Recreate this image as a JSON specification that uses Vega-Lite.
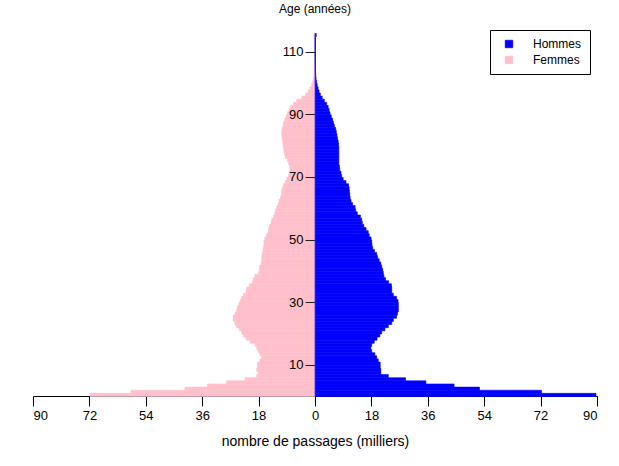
{
  "$schema": "https://vega.github.io/schema/vega-lite/v6.json",
  "width": 564,
  "height": 363,
  "autosize": {"type": "none"},
  "padding": {"left": 33, "top": 33, "right": 22, "bottom": 70},
  "title": {"text": "Age (années)", "fontSize": 12, "fontWeight": "normal", "anchor": "middle", "offset": 14, "font": "Liberation Sans", "color": "black"},
  "config": {
    "view": {"stroke": null},
    "font": "Liberation Sans",
    "axis": {"grid": false, "labelFont": "Liberation Sans", "titleFont": "Liberation Sans"},
    "legend": {"labelFont": "Liberation Sans"}
  },
  "datasets": {
    "pyramide": [
      {"age":0,"sexe":"Hommes","n":89.7},{"age":1,"sexe":"Hommes","n":72.3},{"age":2,"sexe":"Hommes","n":52.5},{"age":3,"sexe":"Hommes","n":44.4},{"age":4,"sexe":"Hommes","n":35.4},
      {"age":5,"sexe":"Hommes","n":28.9},{"age":6,"sexe":"Hommes","n":23.4},{"age":7,"sexe":"Hommes","n":21.0},{"age":8,"sexe":"Hommes","n":21.0},{"age":9,"sexe":"Hommes","n":20.8},
      {"age":10,"sexe":"Hommes","n":20.8},{"age":11,"sexe":"Hommes","n":20.2},{"age":12,"sexe":"Hommes","n":19.7},{"age":13,"sexe":"Hommes","n":19.1},{"age":14,"sexe":"Hommes","n":18.1},
      {"age":15,"sexe":"Hommes","n":17.8},{"age":16,"sexe":"Hommes","n":18.1},{"age":17,"sexe":"Hommes","n":18.9},{"age":18,"sexe":"Hommes","n":19.8},{"age":19,"sexe":"Hommes","n":20.7},
      {"age":20,"sexe":"Hommes","n":21.3},{"age":21,"sexe":"Hommes","n":22.3},{"age":22,"sexe":"Hommes","n":23.4},{"age":23,"sexe":"Hommes","n":24.5},{"age":24,"sexe":"Hommes","n":25.0},
      {"age":25,"sexe":"Hommes","n":26.0},{"age":26,"sexe":"Hommes","n":26.3},{"age":27,"sexe":"Hommes","n":26.6},{"age":28,"sexe":"Hommes","n":26.6},{"age":29,"sexe":"Hommes","n":26.6},
      {"age":30,"sexe":"Hommes","n":26.5},{"age":31,"sexe":"Hommes","n":26.0},{"age":32,"sexe":"Hommes","n":25.0},{"age":33,"sexe":"Hommes","n":24.5},{"age":34,"sexe":"Hommes","n":24.5},
      {"age":35,"sexe":"Hommes","n":24.4},{"age":36,"sexe":"Hommes","n":23.5},{"age":37,"sexe":"Hommes","n":22.5},{"age":38,"sexe":"Hommes","n":22.0},{"age":39,"sexe":"Hommes","n":21.8},
      {"age":40,"sexe":"Hommes","n":21.6},{"age":41,"sexe":"Hommes","n":21.3},{"age":42,"sexe":"Hommes","n":21.0},{"age":43,"sexe":"Hommes","n":20.5},{"age":44,"sexe":"Hommes","n":20.0},
      {"age":45,"sexe":"Hommes","n":19.7},{"age":46,"sexe":"Hommes","n":19.0},{"age":47,"sexe":"Hommes","n":18.4},{"age":48,"sexe":"Hommes","n":18.2},{"age":49,"sexe":"Hommes","n":18.1},
      {"age":50,"sexe":"Hommes","n":17.9},{"age":51,"sexe":"Hommes","n":17.3},{"age":52,"sexe":"Hommes","n":17.0},{"age":53,"sexe":"Hommes","n":16.3},{"age":54,"sexe":"Hommes","n":15.6},
      {"age":55,"sexe":"Hommes","n":15.1},{"age":56,"sexe":"Hommes","n":14.9},{"age":57,"sexe":"Hommes","n":14.5},{"age":58,"sexe":"Hommes","n":13.5},{"age":59,"sexe":"Hommes","n":13.0},
      {"age":60,"sexe":"Hommes","n":12.8},{"age":61,"sexe":"Hommes","n":12.0},{"age":62,"sexe":"Hommes","n":11.5},{"age":63,"sexe":"Hommes","n":11.2},{"age":64,"sexe":"Hommes","n":11.1},
      {"age":65,"sexe":"Hommes","n":11.0},{"age":66,"sexe":"Hommes","n":10.9},{"age":67,"sexe":"Hommes","n":10.7},{"age":68,"sexe":"Hommes","n":9.9},{"age":69,"sexe":"Hommes","n":9.0},
      {"age":70,"sexe":"Hommes","n":8.5},{"age":71,"sexe":"Hommes","n":8.3},{"age":72,"sexe":"Hommes","n":7.9},{"age":73,"sexe":"Hommes","n":7.8},{"age":74,"sexe":"Hommes","n":7.6},
      {"age":75,"sexe":"Hommes","n":7.6},{"age":76,"sexe":"Hommes","n":7.6},{"age":77,"sexe":"Hommes","n":7.6},{"age":78,"sexe":"Hommes","n":7.6},{"age":79,"sexe":"Hommes","n":7.6},
      {"age":80,"sexe":"Hommes","n":7.5},{"age":81,"sexe":"Hommes","n":7.4},{"age":82,"sexe":"Hommes","n":7.2},{"age":83,"sexe":"Hommes","n":7.0},{"age":84,"sexe":"Hommes","n":6.8},
      {"age":85,"sexe":"Hommes","n":6.6},{"age":86,"sexe":"Hommes","n":6.2},{"age":87,"sexe":"Hommes","n":5.9},{"age":88,"sexe":"Hommes","n":5.6},{"age":89,"sexe":"Hommes","n":5.2},
      {"age":90,"sexe":"Hommes","n":4.8},{"age":91,"sexe":"Hommes","n":4.5},{"age":92,"sexe":"Hommes","n":4.2},{"age":93,"sexe":"Hommes","n":3.7},{"age":94,"sexe":"Hommes","n":3.0},
      {"age":95,"sexe":"Hommes","n":2.3},{"age":96,"sexe":"Hommes","n":1.7},{"age":97,"sexe":"Hommes","n":1.3},{"age":98,"sexe":"Hommes","n":1.0},{"age":99,"sexe":"Hommes","n":0.7},
      {"age":100,"sexe":"Hommes","n":0.5},{"age":101,"sexe":"Hommes","n":0.35},{"age":102,"sexe":"Hommes","n":0.25},{"age":103,"sexe":"Hommes","n":0.18},{"age":104,"sexe":"Hommes","n":0.12},
      {"age":105,"sexe":"Hommes","n":0.08},{"age":106,"sexe":"Hommes","n":0.06},{"age":107,"sexe":"Hommes","n":0.04},{"age":108,"sexe":"Hommes","n":0.03},{"age":109,"sexe":"Hommes","n":0.02},
      {"age":110,"sexe":"Hommes","n":0.02},{"age":111,"sexe":"Hommes","n":0.01},{"age":112,"sexe":"Hommes","n":0.01},{"age":113,"sexe":"Hommes","n":0.01},{"age":114,"sexe":"Hommes","n":0.02},
      {"age":115,"sexe":"Hommes","n":0.4},
      {"age":0,"sexe":"Femmes","n":71.8},{"age":1,"sexe":"Femmes","n":58.7},{"age":2,"sexe":"Femmes","n":41.5},{"age":3,"sexe":"Femmes","n":34.3},{"age":4,"sexe":"Femmes","n":28.2},
      {"age":5,"sexe":"Femmes","n":22.3},{"age":6,"sexe":"Femmes","n":18.6},{"age":7,"sexe":"Femmes","n":18.1},{"age":8,"sexe":"Femmes","n":18.6},{"age":9,"sexe":"Femmes","n":18.3},
      {"age":10,"sexe":"Femmes","n":18.4},{"age":11,"sexe":"Femmes","n":17.6},{"age":12,"sexe":"Femmes","n":17.0},{"age":13,"sexe":"Femmes","n":17.6},{"age":14,"sexe":"Femmes","n":18.1},
      {"age":15,"sexe":"Femmes","n":18.6},{"age":16,"sexe":"Femmes","n":19.1},{"age":17,"sexe":"Femmes","n":20.7},{"age":18,"sexe":"Femmes","n":22.0},{"age":19,"sexe":"Femmes","n":22.9},
      {"age":20,"sexe":"Femmes","n":23.4},{"age":21,"sexe":"Femmes","n":24.2},{"age":22,"sexe":"Femmes","n":25.2},{"age":23,"sexe":"Femmes","n":25.6},{"age":24,"sexe":"Femmes","n":26.1},
      {"age":25,"sexe":"Femmes","n":26.1},{"age":26,"sexe":"Femmes","n":25.5},{"age":27,"sexe":"Femmes","n":25.0},{"age":28,"sexe":"Femmes","n":24.8},{"age":29,"sexe":"Femmes","n":24.3},
      {"age":30,"sexe":"Femmes","n":23.9},{"age":31,"sexe":"Femmes","n":23.5},{"age":32,"sexe":"Femmes","n":22.8},{"age":33,"sexe":"Femmes","n":22.0},{"age":34,"sexe":"Femmes","n":21.8},
      {"age":35,"sexe":"Femmes","n":21.0},{"age":36,"sexe":"Femmes","n":20.0},{"age":37,"sexe":"Femmes","n":19.7},{"age":38,"sexe":"Femmes","n":19.2},{"age":39,"sexe":"Femmes","n":18.0},
      {"age":40,"sexe":"Femmes","n":17.8},{"age":41,"sexe":"Femmes","n":17.7},{"age":42,"sexe":"Femmes","n":17.2},{"age":43,"sexe":"Femmes","n":17.0},{"age":44,"sexe":"Femmes","n":17.0},
      {"age":45,"sexe":"Femmes","n":16.9},{"age":46,"sexe":"Femmes","n":16.6},{"age":47,"sexe":"Femmes","n":16.5},{"age":48,"sexe":"Femmes","n":16.3},{"age":49,"sexe":"Femmes","n":16.3},
      {"age":50,"sexe":"Femmes","n":16.0},{"age":51,"sexe":"Femmes","n":15.5},{"age":52,"sexe":"Femmes","n":15.0},{"age":53,"sexe":"Femmes","n":14.8},{"age":54,"sexe":"Femmes","n":14.5},
      {"age":55,"sexe":"Femmes","n":14.0},{"age":56,"sexe":"Femmes","n":13.8},{"age":57,"sexe":"Femmes","n":13.2},{"age":58,"sexe":"Femmes","n":12.8},{"age":59,"sexe":"Femmes","n":12.6},
      {"age":60,"sexe":"Femmes","n":12.2},{"age":61,"sexe":"Femmes","n":11.8},{"age":62,"sexe":"Femmes","n":11.5},{"age":63,"sexe":"Femmes","n":11.0},{"age":64,"sexe":"Femmes","n":10.7},
      {"age":65,"sexe":"Femmes","n":10.6},{"age":66,"sexe":"Femmes","n":10.4},{"age":67,"sexe":"Femmes","n":10.1},{"age":68,"sexe":"Femmes","n":9.5},{"age":69,"sexe":"Femmes","n":9.0},
      {"age":70,"sexe":"Femmes","n":8.5},{"age":71,"sexe":"Femmes","n":8.2},{"age":72,"sexe":"Femmes","n":8.0},{"age":73,"sexe":"Femmes","n":8.1},{"age":74,"sexe":"Femmes","n":8.4},
      {"age":75,"sexe":"Femmes","n":8.8},{"age":76,"sexe":"Femmes","n":9.4},{"age":77,"sexe":"Femmes","n":9.7},{"age":78,"sexe":"Femmes","n":9.9},{"age":79,"sexe":"Femmes","n":10.1},
      {"age":80,"sexe":"Femmes","n":10.2},{"age":81,"sexe":"Femmes","n":10.3},{"age":82,"sexe":"Femmes","n":10.5},{"age":83,"sexe":"Femmes","n":10.6},{"age":84,"sexe":"Femmes","n":10.6},
      {"age":85,"sexe":"Femmes","n":10.5},{"age":86,"sexe":"Femmes","n":10.2},{"age":87,"sexe":"Femmes","n":10.0},{"age":88,"sexe":"Femmes","n":9.6},{"age":89,"sexe":"Femmes","n":9.2},
      {"age":90,"sexe":"Femmes","n":8.8},{"age":91,"sexe":"Femmes","n":8.3},{"age":92,"sexe":"Femmes","n":7.8},{"age":93,"sexe":"Femmes","n":6.9},{"age":94,"sexe":"Femmes","n":5.9},
      {"age":95,"sexe":"Femmes","n":4.2},{"age":96,"sexe":"Femmes","n":3.0},{"age":97,"sexe":"Femmes","n":2.2},{"age":98,"sexe":"Femmes","n":1.6},{"age":99,"sexe":"Femmes","n":1.1},
      {"age":100,"sexe":"Femmes","n":0.75},{"age":101,"sexe":"Femmes","n":0.5},{"age":102,"sexe":"Femmes","n":0.35},{"age":103,"sexe":"Femmes","n":0.25},{"age":104,"sexe":"Femmes","n":0.18},
      {"age":105,"sexe":"Femmes","n":0.12},{"age":106,"sexe":"Femmes","n":0.08},{"age":107,"sexe":"Femmes","n":0.06},{"age":108,"sexe":"Femmes","n":0.04},{"age":109,"sexe":"Femmes","n":0.03},
      {"age":110,"sexe":"Femmes","n":0.02},{"age":111,"sexe":"Femmes","n":0.02},{"age":112,"sexe":"Femmes","n":0.01},{"age":113,"sexe":"Femmes","n":0.01},{"age":114,"sexe":"Femmes","n":0.01},
      {"age":115,"sexe":"Femmes","n":0.4}
    ]
  },
  "data": {"name": "pyramide"},
  "encoding": {
    "y": {
      "field": "age",
      "type": "quantitative",
      "bin": {"binned": true, "step": 1},
      "scale": {"domain": [0, 116], "nice": false, "zero": false},
      "axis": {
        "title": null,
        "orient": "left",
        "offset": -282,
        "values": [10, 30, 50, 70, 90, 110],
        "tickSize": 10,
        "tickColor": "#222",
        "domainColor": "#333",
        "domainWidth": 1,
        "labelFontSize": 13,
        "labelColor": "black",
        "labelPadding": 2,
        "zindex": 1,
        "grid": false
      }
    },
    "color": {
      "field": "sexe",
      "type": "nominal",
      "scale": {"domain": ["Hommes", "Femmes"], "range": ["#0000FF", "#FFC0CB"]},
      "legend": {
        "title": null,
        "orient": "none",
        "legendX": 457,
        "legendY": -3,
        "strokeColor": "black",
        "fillColor": "white",
        "padding": 8,
        "symbolType": "square",
        "symbolSize": 55,
        "symbolOffset": 5,
        "labelFontSize": 12,
        "labelColor": "black",
        "labelOffset": 18,
        "rowPadding": 4,
        "encode": {
          "symbols": {"update": {"stroke": {"value": "black"}, "strokeWidth": {"value": 0.8}}}
        }
      }
    },
    "stroke": {
      "field": "sexe",
      "type": "nominal",
      "scale": {"domain": ["Hommes", "Femmes"], "range": ["#0000FF", "#FFC0CB"]},
      "legend": null
    }
  },
  "layer": [
    {
      "transform": [{"filter": "datum.sexe === 'Femmes'"}],
      "mark": {"type": "bar", "binSpacing": 0, "strokeWidth": 0.6},
      "encoding": {
        "x": {"field": "n", "type": "quantitative", "scale": {"domain": [-90, 90], "nice": false, "reverse": true}, "axis": null}
      }
    },
    {
      "transform": [{"filter": "datum.sexe === 'Hommes'"}],
      "mark": {"type": "bar", "binSpacing": 0, "strokeWidth": 0.6},
      "encoding": {
        "x": {
          "field": "n",
          "type": "quantitative",
          "scale": {"domain": [-90, 90], "nice": false},
          "axis": {
            "title": "nombre de passages (milliers)",
            "values": [-90, -72, -54, -36, -18, 0, 18, 36, 54, 72, 90],
            "labelExpr": "abs(datum.value)",
            "tickSize": 10,
            "tickColor": "black",
            "domainColor": "black",
            "labelFontSize": 13,
            "labelColor": "black",
            "labelPadding": 3,
            "titleFontSize": 14,
            "titleFontWeight": "normal",
            "titleColor": "black",
            "titlePadding": 12,
            "grid": false
          }
        }
      }
    }
  ],
  "resolve": {"scale": {"x": "independent"}, "axis": {"x": "independent"}}
}
